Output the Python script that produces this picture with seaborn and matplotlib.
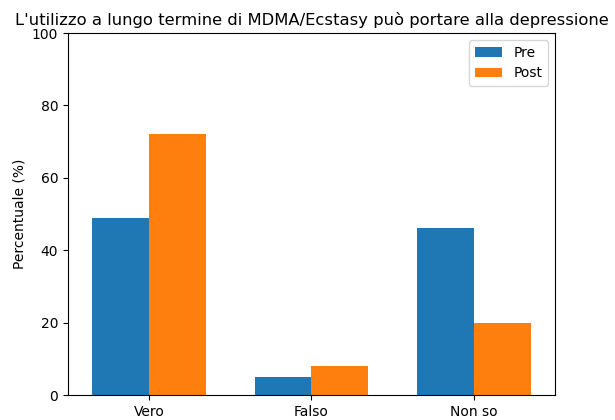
import pandas as pd
import matplotlib.pyplot as plt
import seaborn as sns

categories = ["Vero", "Falso", "Non so"]
pre_values = [49, 5, 46]
post_values = [72, 8, 20]

df = pd.DataFrame({
    "Risposta": categories * 2,
    "Percentuale": pre_values + post_values,
    "Fase": ["Pre"] * len(categories) + ["Post"] * len(categories),
})

fig, ax = plt.subplots(figsize=(6.15, 4.2), dpi=100)
fig.subplots_adjust(left=0.1106, right=0.9024, top=0.9214, bottom=0.0595)

sns.barplot(data=df, x="Risposta", y="Percentuale", hue="Fase",
            palette=["#1f77b4", "#ff7f0e"], errorbar=None, width=0.7,
            saturation=1, ax=ax)

ax.set_ylim(0, 100)
ax.set_xlabel("")
ax.set_ylabel("Percentuale (%)")
ax.set_title("L'utilizzo a lungo termine di MDMA/Ecstasy può portare alla depressione",
             fontsize=11.8)
ax.legend(loc="upper right")

plt.savefig("out.png")
